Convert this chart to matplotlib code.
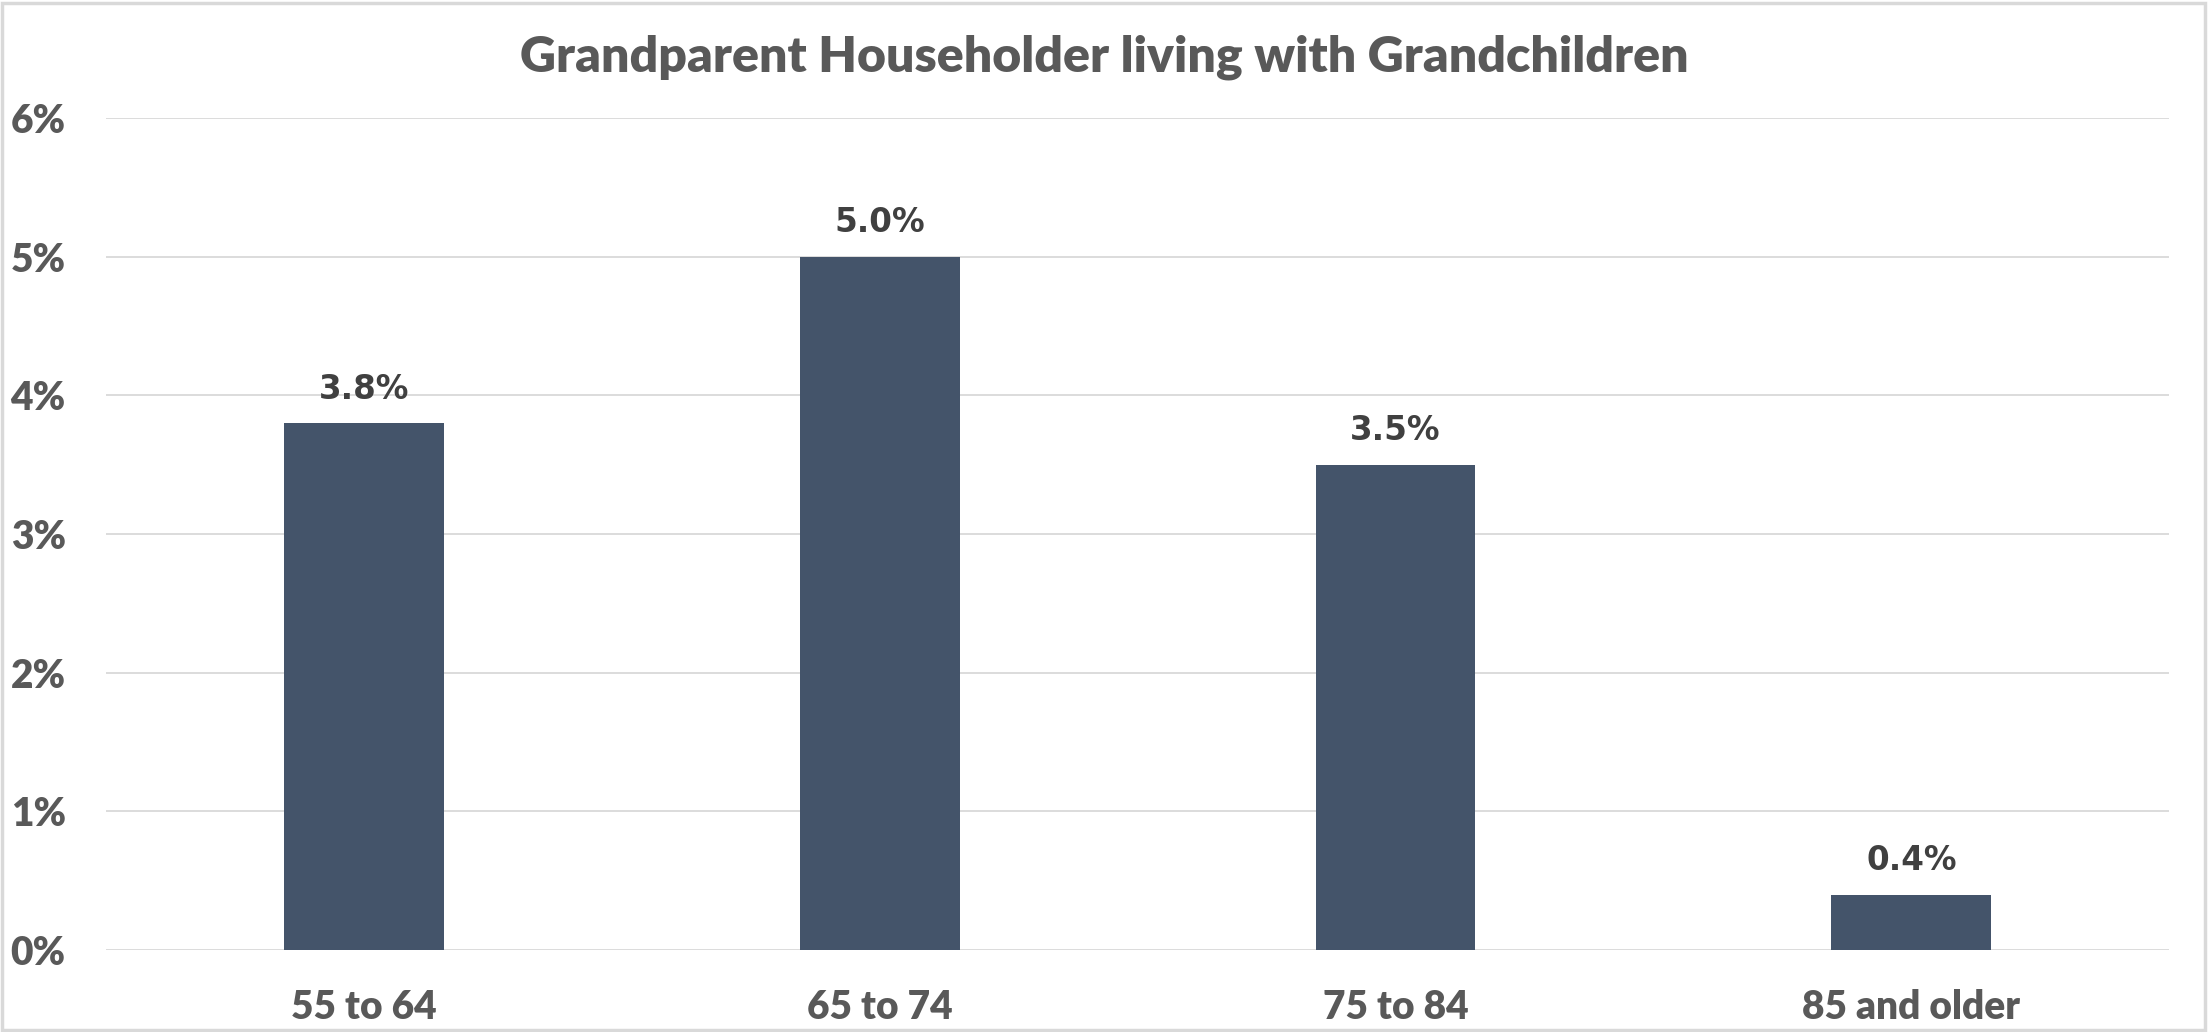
import matplotlib.pyplot as plt
from matplotlib.patches import Rectangle

# chart data
age_groups = ['55 to 64', '65 to 74', '75 to 84', '85 and older']
share = [3.8, 5.0, 3.5, 0.4]          # percent of householders
y_ticks = [0, 1, 2, 3, 4, 5, 6]

bar_color = '#44546A'
text_color = '#595959'
label_color = '#404040'
grid_color = '#D9D9D9'

fig = plt.figure(figsize=(22.09, 10.32), dpi=100)
ax = fig.add_axes([0.048, 0.0795, 0.934, 0.806])

x = range(len(age_groups))
bars = ax.bar(x, share, width=0.31, color=bar_color, zorder=3)

# value labels above bars
for b, v in zip(bars, share):
    ax.annotate(f'{v:.1f}%', (b.get_x() + b.get_width() / 2, v),
                xytext=(0, 12.5), textcoords='offset points',
                ha='center', va='bottom', fontsize=23.5, fontweight='bold',
                color=label_color, family='DejaVu Sans')

ax.set_xlim(-0.5, len(age_groups) - 0.5)
ax.set_ylim(0, 6)
ax.set_yticks(y_ticks)
ax.set_yticklabels([f'{t}%' for t in y_ticks])
ax.set_xticks(list(x))
ax.set_xticklabels(age_groups)

for lab in ax.get_xticklabels() + ax.get_yticklabels():
    lab.set_family('Lato')
    lab.set_fontweight('heavy')
    lab.set_fontsize(28)
    lab.set_color(text_color)

ax.tick_params(axis='both', length=0)
ax.tick_params(axis='y', pad=29)
ax.tick_params(axis='x', pad=28)
ax.grid(axis='y', color=grid_color, linewidth=1.3, zorder=0)
for s in ax.spines.values():
    s.set_visible(False)

fig.text(0.5, 0.945, 'Grandparent Householder living with Grandchildren',
         ha='center', va='center', fontsize=36, fontweight='heavy',
         family='Lato', color=text_color)

# outer chart border
fig.patches.append(Rectangle((0.001, 0.002), 0.997, 0.995, transform=fig.transFigure,
                             fill=False, edgecolor=grid_color, linewidth=2.5))

fig.savefig('out.png', dpi=100)
